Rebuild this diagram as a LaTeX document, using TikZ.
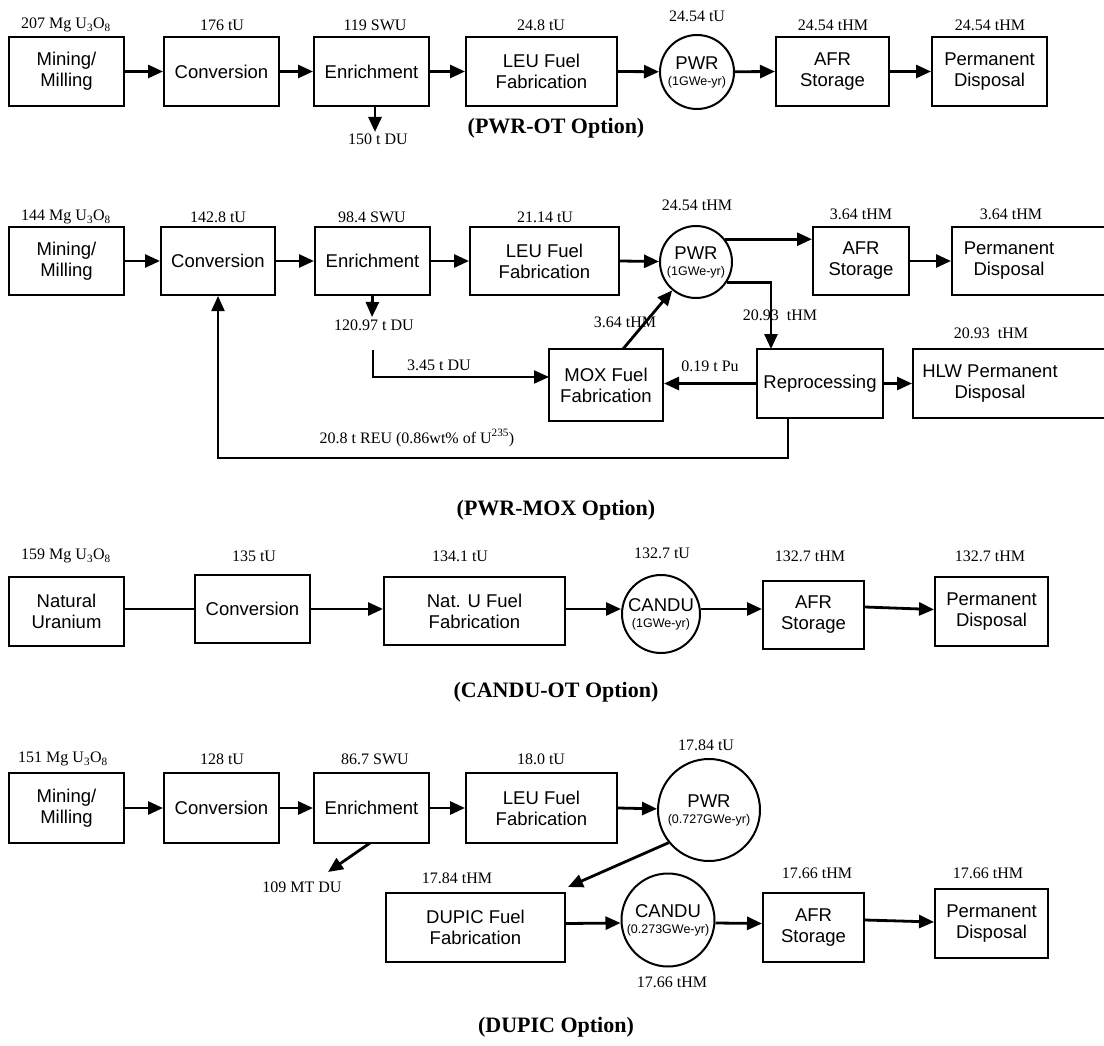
\documentclass[tikz,border=0pt]{standalone}
\usepackage{fontspec}
\setmainfont{Liberation Serif}
\newfontfamily\arialf{Liberation Sans}
\usetikzlibrary{arrows.meta}
\begin{document}
\begin{tikzpicture}[x=1pt,y=-1pt,
  box/.style={draw, line width=2pt, inner sep=0pt, minimum height=69pt, align=center, font=\arialf\fontsize{18.5}{21}\selectfont},
  btext/.style={inner sep=0pt, align=center, font=\arialf\fontsize{18.5}{21}\selectfont},
  circ/.style={circle, draw, line width=2pt, inner sep=0pt, align=center, font=\arialf\fontsize{18.5}{20}\selectfont},
  lbl/.style={inner sep=0pt, font=\fontsize{16}{18}\selectfont},
  ttl/.style={inner sep=0pt, font=\bfseries\fontsize{22}{24}\selectfont},
  arr/.style={line width=2.8pt, -{Triangle[length=15pt,width=13pt]}},
  thinarr/.style={line width=2pt, -{Triangle[length=15pt,width=13pt]}},
  ln/.style={line width=2.8pt}
]
\newcommand{\smalltxt}[1]{{\fontsize{12.5}{13}\selectfont #1}}
\useasboundingbox (0,0) rectangle (1104,1046);

% ===== Row 1: PWR-OT =====
\node[box, minimum width=115pt] (min1) at (66.5,71.5) {Mining/\\Milling};
\node[box, minimum width=115pt] (conv1) at (221.5,71.5) {Conversion};
\node[box, minimum width=115pt] (enr1) at (371.5,71.5) {Enrichment};
\node[box, minimum width=151pt] (leu1) at (541.5,71.5) {LEU Fuel\\Fabrication};
\node[circ, minimum size=74pt] (pwr1) at (697,72) {PWR\\[-4pt]\smalltxt{(1GWe-yr)}};
\node[box, minimum width=113pt] (afr1) at (832.5,71.5) {AFR\\Storage};
\node[box, minimum width=115pt] (pd1) at (989.5,71.5) {Permanent\\Disposal};

\node[lbl] (l1a) at (66,25) {207 Mg U\textsubscript{3}O\textsubscript{8}};
\node[lbl] (l1b) at (222,25) {176 tU};
\node[lbl] (l1c) at (375,25) {119 SWU};
\node[lbl] (l1d) at (541,25) {24.8 tU};
\node[lbl] (l1e) at (697,16) {24.54 tU};
\node[lbl] (l1f) at (833,25) {24.54 tHM};
\node[lbl] (l1g) at (990,25) {24.54 tHM};
\node[lbl] (l1du) at (378,139) {150 t DU};
\coordinate (du1) at (375,132);

\draw[arr] (min1.east) -- (conv1.west);
\draw[arr] (conv1.east) -- (enr1.west);
\draw[arr] (enr1.east) -- (leu1.west);
\draw[arr] (leu1.east) -- (pwr1);
\draw[arr] (pwr1) -- (afr1.west);
\draw[arr] (afr1.east) -- (pd1.west);
\draw[arr] (enr1.south -| du1) -- (du1);

\node[ttl] (t1) at (556,128) {(PWR-OT Option)};

% ===== Row 2: PWR-MOX =====
\node[box, minimum width=115pt, minimum height=68pt] (min2) at (66.5,261) {Mining/\\Milling};
\node[box, minimum width=114pt, minimum height=68pt] (conv2) at (218,261) {Conversion};
\node[box, minimum width=115pt, minimum height=68pt] (enr2) at (372.5,261) {Enrichment};
\node[box, minimum width=149pt, minimum height=68pt] (leu2) at (544.5,261) {LEU Fuel\\Fabrication};
\node[circ, minimum size=72pt] (pwr2) at (696,262) {PWR\\[-4pt]\smalltxt{(1GWe-yr)}};
\node[box, minimum width=96pt, minimum height=68pt] (afr2) at (861,261) {AFR\\Storage};
\node[box, minimum width=160pt, minimum height=68pt] (pd2) at (1032,261) {};
\node[btext] (pd2t) at (1009,261) {Permanent\\Disposal};
\node[box, minimum width=114pt, minimum height=72pt] (mox) at (606,385) {MOX Fuel\\Fabrication};
\node[box, minimum width=126pt] (rep) at (820,383.5) {Reprocessing};
\node[box, minimum width=199pt] (hlw) at (1012.5,383.5) {};
\node[btext] (hlwt) at (990,383.5) {HLW Permanent\\Disposal};

\node[lbl] (l2a) at (66,217) {144 Mg U\textsubscript{3}O\textsubscript{8}};
\node[lbl] (l2b) at (218,217) {142.8 tU};
\node[lbl] (l2c) at (372,217) {98.4 SWU};
\node[lbl] (l2d) at (545,217) {21.14 tU};
\node[lbl] (l2e) at (697,205) {24.54 tHM};
\node[lbl] (l2f) at (861,214) {3.64 tHM};
\node[lbl] (l2g) at (1011,214) {3.64 tHM};
\node[lbl] (l2du) at (374,325) {120.97 t DU};
\node[lbl] (l2h) at (780,315) {20.93\ \ tHM};
\node[lbl] (l2i) at (991,333) {20.93\ \ tHM};
\node[lbl] (l2j) at (625,322) {3.64 tHM};
\node[lbl] (l2k) at (439,365) {3.45 t DU};
\node[lbl] (l2l) at (710,366) {0.19 t Pu};
\node[lbl] (l2m) at (417,438) {20.8 t REU (0.86wt\% of U\textsuperscript{235})};

\coordinate (du2) at (372,317);
\coordinate (dufeed) at (373,350);
\coordinate (moxin) at (549,377);
\coordinate (moxtop) at (623,349);
\coordinate (repin) at (771,349);
\coordinate (ret) at (788,458);

\draw[arr] (min2.east) -- (conv2.west);
\draw[arr] (conv2.east) -- (enr2.west);
\draw[arr] (enr2.east) -- (leu2.west);
\draw[arr] (leu2.east) -- (pwr2);
\draw[arr] (pwr2.38) -- (pwr2.38 -| afr2.west);
\draw[arr] (afr2.east) -- (afr2.east -| pd2.west);
\draw[arr] (pwr2.-34) -| (repin);
\draw[arr] (enr2.south) -- (du2);
\draw[thinarr] (dufeed) |- (moxin);
\draw[arr] (moxtop) -- (pwr2);
\draw[arr] (rep.west) -- (rep.west -| mox.east);
\draw[arr] (rep.east) -- (rep.east -| hlw.west);
\draw[thinarr] (rep.south -| ret) -- (ret) -| (conv2.south);

\node[ttl] (t2) at (556,510) {(PWR-MOX Option)};

% ===== Row 3: CANDU-OT =====
\node[box, minimum width=115pt] (nat) at (66.5,611.5) {Natural\\Uranium};
\node[box, minimum width=115pt, minimum height=68pt] (conv3) at (252.5,609) {Conversion};
\node[box, minimum width=181pt, minimum height=68pt] (natu) at (474.5,611) {Nat. U Fuel\\Fabrication};
\node[circ, minimum size=78pt] (candu3) at (661,614) {CANDU\\[-4pt]\smalltxt{(1GWe-yr)}};
\node[box, minimum width=101pt, minimum height=68pt] (afr3) at (813.5,615) {AFR\\Storage};
\node[box, minimum width=113pt] (pd3) at (991.5,611.5) {Permanent\\Disposal};

\node[lbl] (l3a) at (66,556) {159 Mg U\textsubscript{3}O\textsubscript{8}};
\node[lbl] (l3b) at (254,556) {135 tU};
\node[lbl] (l3c) at (460,556) {134.1 tU};
\node[lbl] (l3d) at (662,553) {132.7 tU};
\node[lbl] (l3e) at (810,556) {132.7 tHM};
\node[lbl] (l3f) at (990,556) {132.7 tHM};

\draw[ln] (nat.east |- conv3.west) -- (conv3.west);
\draw[arr] (conv3.east) -- (conv3.east -| natu.west);
\draw[arr] ([yshift=2pt]natu.east) -- ([yshift=5pt]candu3.west);
\draw[arr] ([yshift=5pt]candu3.east) -- ([yshift=6pt]afr3.west);
\draw[arr] ([yshift=8pt]afr3.east) -- ([yshift=2pt]pd3.west);

\node[ttl] (t3) at (556,692) {(CANDU-OT Option)};

% ===== Row 4: DUPIC =====
\node[box, minimum width=115pt, minimum height=70pt] (min4) at (66.5,808) {Mining/\\Milling};
\node[box, minimum width=115pt, minimum height=70pt] (conv4) at (221.5,808) {Conversion};
\node[box, minimum width=115pt, minimum height=70pt] (enr4) at (371.5,808) {Enrichment};
\node[box, minimum width=151pt, minimum height=70pt] (leu4) at (541.5,808) {LEU Fuel\\Fabrication};
\node[circ, minimum size=102pt] (pwr4) at (709,810) {PWR\\[-4pt]\smalltxt{(0.727GWe-yr)}};
\node[box, minimum width=179pt] (dupic) at (475.5,927.5) {DUPIC Fuel\\Fabrication};
\node[circ, minimum size=93pt] (candu4) at (668,920) {CANDU\\[-4pt]\smalltxt{(0.273GWe-yr)}};
\node[box, minimum width=101pt] (afr4) at (813.5,927.5) {AFR\\Storage};
\node[box, minimum width=113pt] (pd4) at (991.5,923.5) {Permanent\\Disposal};

\node[lbl] (l4a) at (63,759) {151 Mg U\textsubscript{3}O\textsubscript{8}};
\node[lbl] (l4b) at (222,759) {128 tU};
\node[lbl] (l4c) at (375,759) {86.7 SWU};
\node[lbl] (l4d) at (541,759) {18.0 tU};
\node[lbl] (l4e) at (706,745) {17.84 tU};
\node[lbl] (l4f) at (457,878) {17.84 tHM};
\node[lbl] (l4g) at (817,873) {17.66 tHM};
\node[lbl] (l4h) at (988,873) {17.66 tHM};
\node[lbl] (l4i) at (672,982) {17.66 tHM};
\node[lbl] (l4du) at (302,887) {109 MT DU};

\coordinate (du4s) at (370,843);
\coordinate (du4) at (328,872);
\coordinate (dupin) at (568,887);

\draw[arr] (min4.east) -- (conv4.west);
\draw[arr] (conv4.east) -- (enr4.west);
\draw[arr] (enr4.east) -- (leu4.west);
\draw[arr] (leu4.east) -- (pwr4);
\draw[arr] (du4s) -- (du4);
\draw[arr] (pwr4.-141) -- (dupin);
\draw[arr] ([yshift=4pt]dupic.east) -- ([yshift=-3pt]candu4.west);
\draw[arr] ([yshift=-3pt]candu4.east) -- ([yshift=4pt]afr4.west);
\draw[arr] ([yshift=7.5pt]afr4.east) -- ([yshift=1.5pt]pd4.west);

\node[ttl] (t4) at (556,1027) {(DUPIC Option)};
\end{tikzpicture}
\end{document}
